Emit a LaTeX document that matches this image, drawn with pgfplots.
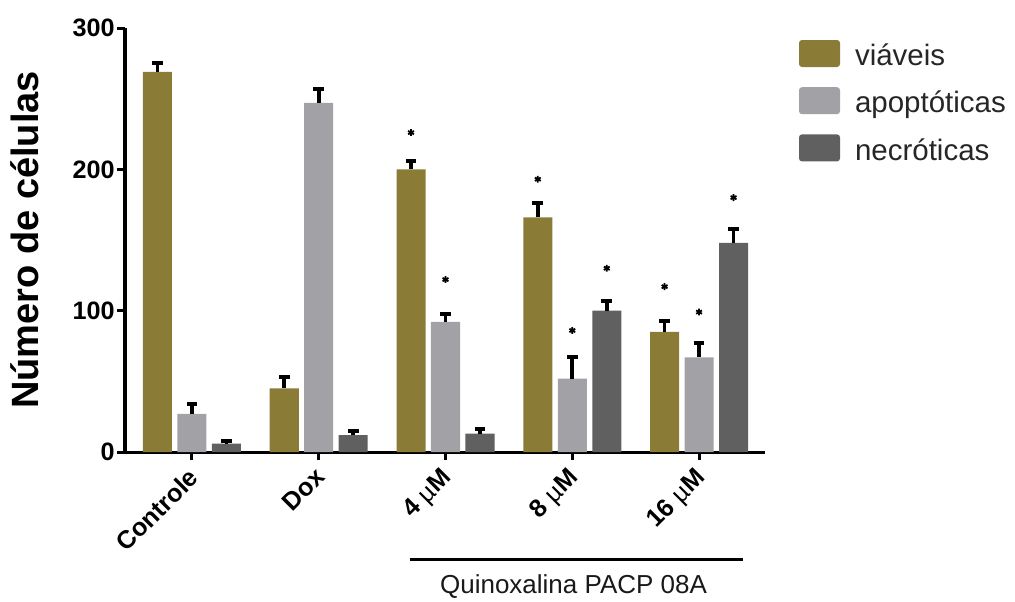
\documentclass[border=0pt]{standalone}
\usepackage{fontspec}
\setmainfont{Liberation Sans}
\usepackage{pgfplots}
\pgfplotsset{compat=1.18}
\definecolor{viav}{HTML}{8A7B37}
\definecolor{apop}{HTML}{A2A1A6}
\definecolor{necr}{HTML}{606060}
\pgfplotsset{errbar/.style={draw=none, mark=none, forget plot,
  error bars/y dir=plus, error bars/y explicit,
  error bars/error mark=-,
  error bars/error bar style={line width=1.9pt, black},
  error bars/error mark options={line width=2pt, mark size=2.7pt, black, rotate=90}}}
\begin{document}
\begin{tikzpicture}
\useasboundingbox (-62.5pt,-74.5pt) rectangle (445pt,226pt);
\begin{axis}[
  at={(0,0)}, anchor=south west,
  scale only axis, width=320pt, height=212pt,
  xmin=-0.528, xmax=4.52, ymin=0, ymax=300,
  clip=false,
  axis x line*=bottom, axis y line*=left,
  axis line style={line width=1.5pt},
  xtick={0,1,2,3,4},
  xticklabels={Controle,Dox,{4 {\mdseries µ}M},{8 {\mdseries µ}M},{16 {\mdseries µ}M}},
  ytick={0,100,200,300},
  tick align=outside, major tick length=4pt,
  tick style={line width=1.5pt, black},
  tick label style={font=\bfseries\fontsize{12.6}{15}\selectfont},
  yticklabel style={inner sep=1pt},
  xticklabel style={rotate=45, anchor=north east, inner sep=0pt, xshift=-3.9pt, yshift=-0.4pt},
  /pgf/number format/assume math mode=true,
  ylabel={Número de células},
  ylabel style={font=\bfseries\fontsize{19}{22}\selectfont, at={(rel axis cs:-0.1344,0.5)}, anchor=south, inner sep=0pt},
  legend style={at={(rel axis cs:1,1)}, anchor=north west, xshift=17pt, yshift=-6pt,
    draw=none, fill=none, inner sep=0pt, outer sep=0pt,
    font=\fontsize{14.75}{16}\selectfont, text=black!85,
    nodes={inner sep=0pt, text height=12.5pt, text depth=3pt},
    row sep=7.8pt, column sep=7.5pt},
  legend cell align=left,
  legend image code/.code={\fill[#1, rounded corners=1.5pt] (0pt,-5.45pt) rectangle (20.5pt,8.05pt);},
]
\addplot[ybar, bar width=0.229, bar shift=-0.272, fill=viav, draw=none]
  coordinates {(0,269) (1,45) (2,200) (3,166) (4,85)};
\addlegendentry{viáveis}
\addplot[ybar, bar width=0.229, bar shift=0, fill=apop, draw=none]
  coordinates {(0,27) (1,247) (2,92) (3,52) (4,67)};
\addlegendentry{apoptóticas}
\addplot[ybar, bar width=0.229, bar shift=0.272, fill=necr, draw=none]
  coordinates {(0,6) (1,12) (2,13) (3,100) (4,148)};
\addlegendentry{necróticas}
% error bars (upper only), at the bar positions
\addplot[errbar] coordinates {(-0.272,269) +- (0,6) (0.728,45) +- (0,8) (1.728,200) +- (0,6) (2.728,166) +- (0,10) (3.728,85) +- (0,8)};
\addplot[errbar] coordinates {(0,27) +- (0,7) (1,247) +- (0,10) (2,92) +- (0,6) (3,52) +- (0,15) (4,67) +- (0,10)};
\addplot[errbar] coordinates {(0.272,6) +- (0,2) (1.272,12) +- (0,3) (2.272,13) +- (0,3) (3.272,100) +- (0,7) (4.272,148) +- (0,10)};
% significance marks
\addplot[only marks, mark=asterisk, mark size=1.7pt, line width=0.9pt, black, forget plot]
  coordinates {(1.728,226) (2,122) (2.728,193) (3,86) (3.272,130) (3.728,117) (4,99) (4.272,180)};
\draw[line width=1.5pt] (axis cs:1.72,-76) -- (axis cs:4.35,-76);
\node[font=\fontsize{13}{15}\selectfont, text=black!90] at (axis cs:3.01,-95.5) {Quinoxalina PACP 08A};
\end{axis}
\end{tikzpicture}
\end{document}
